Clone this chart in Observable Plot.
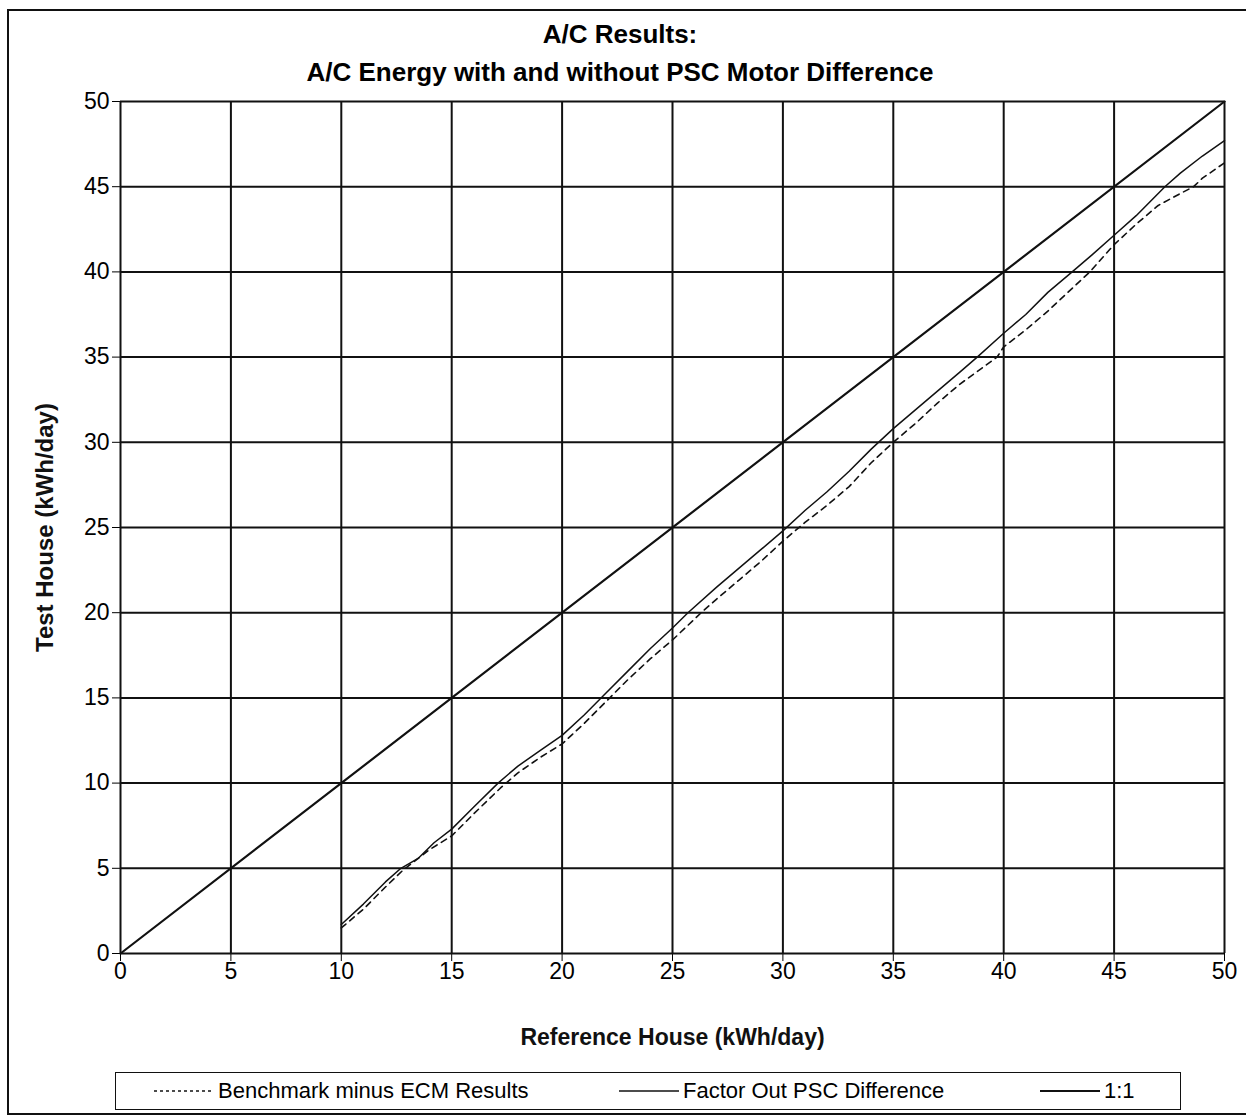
<!DOCTYPE html>
<html>
<head>
<meta charset="utf-8">
<script src="https://cdn.jsdelivr.net/npm/d3@7"></script>
<script src="https://cdn.jsdelivr.net/npm/@observablehq/plot@0.6"></script>
<style>
  html, body { margin: 0; padding: 0; background: white; }
  #page { position: relative; width: 1246px; height: 1120px; overflow: hidden; background: white; font-family: "Liberation Sans", Arial, sans-serif; color: black; }
  #frame { position: absolute; z-index: 5; pointer-events: none; left: 7px; top: 9px; width: 1260px; height: 1102px; border-left: 2px solid #111; border-top: 2px solid #111; border-bottom: 2px solid #111; }
  .title { position: absolute; left: 0; width: 1240px; text-align: center; font-weight: bold; font-size: 26px; }
  #chart { position: absolute; left: 0; top: 85px; }
  #legend { position: absolute; left: 115px; top: 1072px; width: 1066px; height: 38px; border: 1.5px solid #111; box-sizing: border-box; }
  .lg { position: absolute; top: 0; height: 36px; display: flex; align-items: center; font-size: 22px; white-space: nowrap; }
  .lg svg { margin-right: 4px; }
</style>
</head>
<body>
<div id="page">
  <div class="title" style="top:19px">A/C Results:</div>
  <div class="title" style="top:57px">A/C Energy with and without PSC Motor Difference</div>
  <div id="chart"></div>
  <div id="legend"></div>
  <div id="frame"></div>
</div>
<script>
// Axis ticks
const xTicks = [0, 5, 10, 15, 20, 25, 30, 35, 40, 45, 50];
const yTicks = [0, 5, 10, 15, 20, 25, 30, 35, 40, 45, 50];

// Series: Benchmark minus ECM Results (dashed)
const benchRef  = [10, 11, 12, 12.8, 14, 15, 16, 17.2, 18, 19, 20, 21, 22, 23, 24, 25, 26.3, 27, 28, 29, 30, 31, 32, 33, 34, 35, 36, 37, 38, 39.7, 40, 41, 42, 43.9, 45, 46, 47, 48, 48.6, 49, 50];
const benchTest = [1.5, 2.6, 3.9, 4.9, 6.1, 6.9, 8.2, 9.7, 10.6, 11.5, 12.3, 13.5, 14.8, 16.1, 17.3, 18.4, 20.0, 20.8, 21.9, 23.0, 24.2, 25.3, 26.3, 27.4, 28.8, 30.0, 31.1, 32.3, 33.4, 35.0, 35.6, 36.6, 37.7, 40.0, 41.6, 42.8, 43.9, 44.6, 45.0, 45.5, 46.4];

// Series: Factor Out PSC Difference (thin solid)
const factorRef  = [10, 11, 12, 12.7, 13.5, 14.2, 15, 16, 17.1, 18, 19, 20, 21, 22, 23, 24, 25, 25.7, 27, 28, 29, 30, 31, 32, 33, 34, 35, 36, 37, 38, 38.8, 40, 41, 42, 43.1, 44, 45, 46, 47.3, 48, 49, 50];
const factorTest = [1.7, 2.9, 4.2, 5.0, 5.6, 6.5, 7.3, 8.6, 10.0, 11.0, 11.9, 12.8, 14.0, 15.3, 16.6, 17.9, 19.1, 20.0, 21.5, 22.6, 23.7, 24.8, 26.0, 27.1, 28.3, 29.6, 30.8, 31.9, 33.0, 34.1, 35.0, 36.4, 37.5, 38.8, 40.0, 41.0, 42.15, 43.3, 45.0, 45.8, 46.8, 47.7];

// Series: 1:1
const oneRef  = [0, 50];
const oneTest = [0, 50];

const seriesNames = ["Benchmark minus ECM Results", "Factor Out PSC Difference", "1:1"];
const xLabel = "Reference House (kWh/day)";
const yLabel = "Test House (kWh/day)";

const bench  = benchRef.map((x, i) => ({x, y: benchTest[i]}));
const factor = factorRef.map((x, i) => ({x, y: factorTest[i]}));
const one    = oneRef.map((x, i) => ({x, y: oneTest[i]}));

const chart = Plot.plot({
  width: 1246,
  height: 975,
  marginLeft: 120,
  marginRight: 22,
  marginTop: 16,
  marginBottom: 107,
  style: { fontSize: "23px", fontFamily: "'Liberation Sans', Arial, sans-serif", color: "black", background: "transparent", overflow: "visible" },
  x: { domain: [0, 50], ticks: xTicks, tickSize: 8, tickPadding: 1, label: null },
  y: { domain: [0, 50], ticks: yTicks, tickSize: 8, tickPadding: 3, label: null },
  marks: [
    Plot.ruleX(xTicks, { stroke: "#111", strokeWidth: 2 }),
    Plot.ruleY(yTicks, { stroke: "#111", strokeWidth: 2 }),
    Plot.line(bench, { x: "x", y: "y", stroke: "#111", strokeWidth: 1.6, strokeDasharray: "6,5" }),
    Plot.line(factor, { x: "x", y: "y", stroke: "#111", strokeWidth: 1.5 }),
    Plot.line(one, { x: "x", y: "y", stroke: "#111", strokeWidth: 2.2 }),
    Plot.text([xLabel], { frameAnchor: "bottom", dy: 84, lineAnchor: "middle", textAnchor: "middle", fontWeight: "bold", fontSize: 23, fill: "#111" }),
    Plot.text([yLabel], { frameAnchor: "left", dx: -75, rotate: -90, lineAnchor: "middle", textAnchor: "middle", fontWeight: "bold", fontSize: 24, fill: "#111" })
  ]
});
document.getElementById("chart").appendChild(chart);

// Legend
const legend = d3.select("#legend");
const items = [
  { name: seriesNames[0], left: 38, dash: "3,3", w: 60, sw: 1.6 },
  { name: seriesNames[1], left: 503, dash: null, w: 60, sw: 1.5 },
  { name: seriesNames[2], left: 924, dash: null, w: 60, sw: 2 }
];
items.forEach(it => {
  const g = legend.append("div").attr("class", "lg").style("left", it.left + "px");
  const s = g.append("svg").attr("width", it.w).attr("height", 10);
  s.append("line").attr("x1", 0).attr("x2", it.w).attr("y1", 5).attr("y2", 5)
    .attr("stroke", "#111").attr("stroke-width", it.sw).attr("stroke-dasharray", it.dash);
  g.append("span").text(it.name);
});
</script>
</body>
</html>
